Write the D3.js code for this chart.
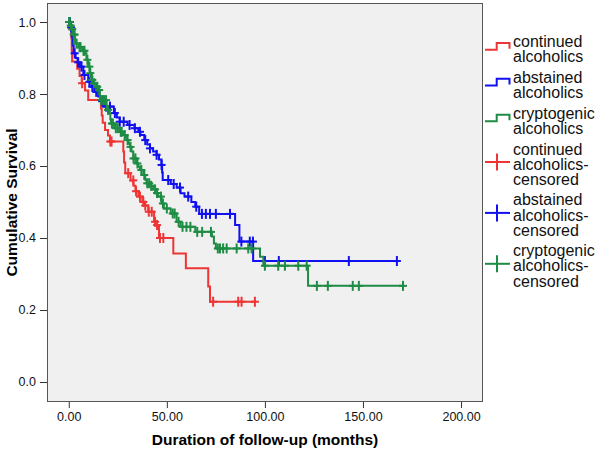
<!DOCTYPE html>
<html><head><meta charset="utf-8">
<script src="https://cdn.jsdelivr.net/npm/d3@7/dist/d3.min.js"></script>
<style>body{margin:0;background:#fff}svg{display:block;font-family:"Liberation Sans",Arial,sans-serif}</style>
</head><body><svg id="c" width="600" height="449"></svg>
<script>
// ---- data (months, cumulative survival) ----
const xTicks = [0, 50, 100, 150, 200];
const yTicks = [0, 0.2, 0.4, 0.6, 0.8, 1.0];
const seriesNames = ["continued alcoholics", "abstained alcoholics", "cryptogenic alcoholics"];

const redTimes = [0.3,1.3,1.5,1.7,4.3,5.5,6.6,8.3,9.9,16.4,16.8,17.3,18.5,20,21,27.8,28.2,28.8,31.5,33,34,35.5,37.5,38.6,40.5,43.5,44.5,46,53.3,59.7,71.1,72];
const redSurv  = [0.98,0.955,0.92,0.89,0.87,0.85,0.83,0.81,0.783,0.76,0.74,0.72,0.70,0.685,0.668,0.64,0.61,0.58,0.56,0.545,0.53,0.515,0.50,0.49,0.473,0.445,0.436,0.40,0.357,0.316,0.265,0.223];
const redCensor = [6.8,21.2,21.8,30.3,32.9,34.3,36.3,38,39,40.8,42.3,44,45,46.5,48.2,73.6,86.4,88.1,94.9];
const redEnd = 94.9;

const blueTimes = [0.8,1.5,2.0,2.5,3.5,4.5,5.7,7.4,9.9,11.5,13,15,16.5,18,23,24.5,26,30,33.5,35.5,36.5,38.5,40,41.4,43,44.8,46,47.3,47.6,47.9,52,55,57,59,62.5,64.5,66.5,84.8,87,94];
const blueSurv  = [0.985,0.96,0.935,0.913,0.90,0.888,0.876,0.853,0.834,0.82,0.806,0.793,0.78,0.765,0.747,0.735,0.723,0.714,0.705,0.695,0.686,0.672,0.66,0.649,0.64,0.631,0.618,0.603,0.582,0.561,0.55,0.54,0.524,0.515,0.50,0.487,0.467,0.436,0.39,0.336];
const blueCensor = [0.3,0.6,1.2,3,4.8,6.5,8,10.5,12,14,17,19,21,23.5,26,28,31,33.7,36.3,39,41.4,44.8,47.3,50.7,53.5,56.7,60.9,65,67.9,69.9,72,75,82.2,88,92.3,93.9,100,107.1,142.8,167.3];
const blueEnd = 168;

const greenTimes = [0.8,1.5,2.2,3.2,5,7,8.3,9,9.9,10.8,11.7,12.5,14,15,15.9,19.3,20.8,21.2,21.5,23.5,26,27.8,29,29.6,30.5,31.2,32,32.9,34.6,35.5,36.3,38,39,39.7,41.5,43,44.5,45.6,47.3,48.5,52,55,57,64.5,73,74,75,97.5,99.2,122];
const greenSurv  = [0.99,0.98,0.965,0.94,0.93,0.92,0.913,0.895,0.876,0.858,0.839,0.83,0.82,0.811,0.783,0.756,0.746,0.73,0.718,0.705,0.695,0.686,0.68,0.672,0.662,0.653,0.64,0.621,0.607,0.598,0.589,0.575,0.562,0.552,0.545,0.535,0.525,0.515,0.496,0.482,0.468,0.445,0.431,0.417,0.404,0.385,0.371,0.348,0.323,0.267];
const greenCensor = [0.2,0.5,1,1.8,2.5,3,4,5.5,6,7.5,8,9.5,10.5,11,12,13,14.5,15.5,16.5,17.5,18,19,20,22,22.5,24,25,26.5,27,28.5,30,31.5,33,34,35,37,38.5,40,41,42,44,45,47,48,50,53,54,56,58,60,62,65.5,68,72.5,76,77.1,78.7,80.5,85.6,91.5,93.2,100,106.8,110.2,117,121.3,126.5,132.1,144.8,147.9,170.4];
const greenEnd = 171;

const colors = ["#EE3535", "#1010F0", "#1E8C44"];

// ---- layout ----
const svg = d3.select("#c");
const L = 47, R = 483, T = 3, B = 402;
const x = d3.scaleLinear().domain([-11.1, 211.2]).range([L, R]);
const y = d3.scaleLinear().domain([-0.0556, 1.0528]).range([B, T]);

svg.append("rect").attr("x", L).attr("y", T).attr("width", R - L).attr("height", B - T)
  .attr("fill", "#F0F0F0");

const plot = svg.append("g");
const series = [
  {times: redTimes, surv: redSurv, cens: redCensor, end: redEnd},
  {times: blueTimes, surv: blueSurv, cens: blueCensor, end: blueEnd},
  {times: greenTimes, surv: greenSurv, cens: greenCensor, end: greenEnd}
];
const line = d3.line().x(d => x(d[0])).y(d => y(d[1])).curve(d3.curveStepAfter);
function survAt(s, t) {
  let v = 1;
  for (let i = 0; i < s.times.length; i++) if (s.times[i] <= t) v = s.surv[i];
  return v;
}
[0, 1, 2].forEach(i => {
  const s = series[i];
  const pts = [[0, 1]].concat(s.times.map((t, j) => [t, s.surv[j]]));
  pts.push([s.end, s.surv[s.surv.length - 1]]);
  plot.append("path").attr("d", line(pts)).attr("fill", "none")
    .attr("stroke", colors[i]).attr("stroke-width", 2);
  const g = plot.append("g").attr("stroke", colors[i]).attr("stroke-width", 2);
  s.cens.forEach(c => {
    const cx = x(c), cy = y(survAt(s, c));
    g.append("line").attr("x1", cx).attr("x2", cx).attr("y1", cy - 5).attr("y2", cy + 5);
    g.append("line").attr("x1", cx - 4).attr("x2", cx + 4).attr("y1", cy).attr("y2", cy);
  });
});

svg.append("rect").attr("x", L + 0.5).attr("y", T + 0.5).attr("width", R - L - 1).attr("height", B - T - 1)
  .attr("fill", "none").attr("stroke", "#555").attr("stroke-width", 1);

// axes
const yAxis = svg.append("g").attr("transform", `translate(${L},0)`)
  .call(d3.axisLeft(y).tickValues(yTicks).tickFormat(d3.format(".1f")).tickSize(7).tickPadding(4));
const xAxis = svg.append("g").attr("transform", `translate(0,${B})`)
  .call(d3.axisBottom(x).tickValues(xTicks).tickFormat(d3.format(".2f")).tickSize(6).tickPadding(4));
[yAxis, xAxis].forEach(a => {
  a.select(".domain").remove();
  a.selectAll(".tick line").attr("stroke", "#333");
  a.selectAll(".tick text").attr("fill", "#111").attr("font-size", 12.5)
   .attr("font-family", '"Liberation Sans",Arial,sans-serif');
});

svg.append("text").attr("x", (L + R) / 2).attr("y", 445).attr("text-anchor", "middle")
  .attr("font-weight", "bold").attr("font-size", 15.5).text("Duration of follow-up (months)");
svg.append("text").attr("transform", `translate(17,${(T + B) / 2}) rotate(-90)`)
  .attr("text-anchor", "middle").attr("font-weight", "bold").attr("font-size", 15.5)
  .text("Cumulative Survival");

// legend
const legendItems = [
  {lines: ["continued", "alcoholics"], c: 0, type: "step"},
  {lines: ["abstained", "alcoholics"], c: 1, type: "step"},
  {lines: ["cryptogenic", "alcoholics"], c: 2, type: "step"},
  {lines: ["continued", "alcoholics-", "censored"], c: 0, type: "cens"},
  {lines: ["abstained", "alcoholics-", "censored"], c: 1, type: "cens"},
  {lines: ["cryptogenic", "alcoholics-", "censored"], c: 2, type: "cens"}
];
const lg = svg.append("g");
let cy0 = 41.5;
const lh = 15.1;
legendItems.forEach(it => {
  const tx = lg.append("text").attr("font-size", 16).attr("fill", "#111");
  it.lines.forEach((t, k) => {
    tx.append("tspan").attr("x", 513).attr("y", cy0 + k * lh + 5.6).text(t);
  });
  if (it.type === "step") {
    const mid = cy0 + lh / 2;
    const lo = mid + 0.7, hi = mid - 6;
    lg.append("path").attr("d", `M485,${lo}H496.7V${hi}H509.5V${lo - 1}`)
      .attr("fill", "none").attr("stroke", colors[it.c]).attr("stroke-width", 2);
  } else {
    const yy = cy0 + lh - 2;
    lg.append("line").attr("x1", 485).attr("x2", 510).attr("y1", yy).attr("y2", yy)
      .attr("stroke", colors[it.c]).attr("stroke-width", 2);
    lg.append("line").attr("x1", 497).attr("x2", 497).attr("y1", yy - 8.5).attr("y2", yy + 8.5)
      .attr("stroke", colors[it.c]).attr("stroke-width", 2);
  }
  cy0 += it.lines.length * lh + 5.6;
});
</script></body></html>
